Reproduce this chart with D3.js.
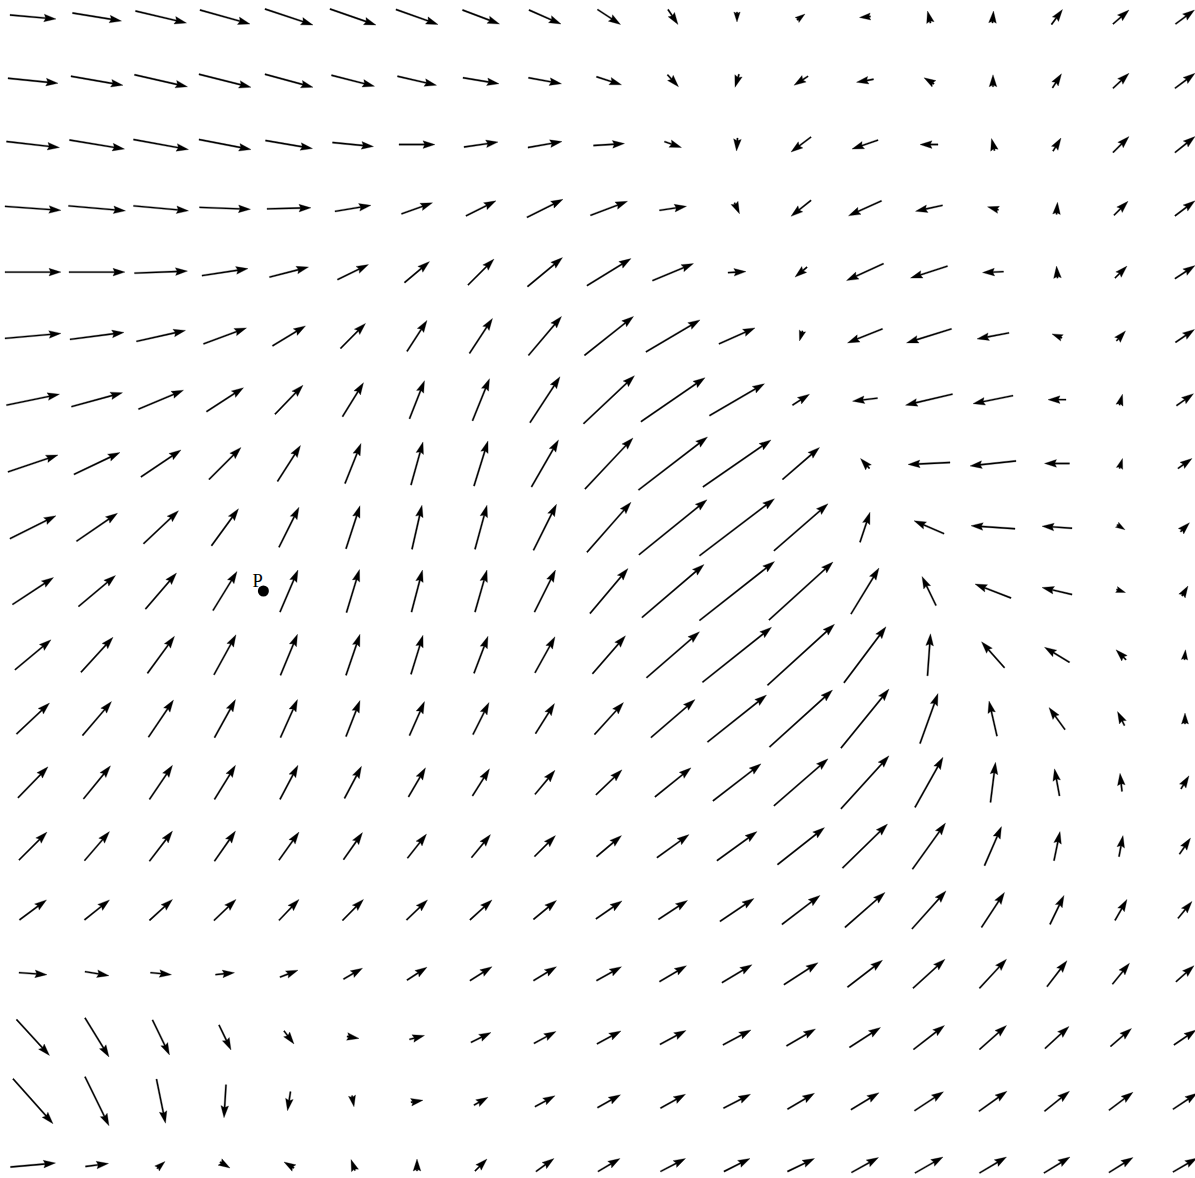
<!DOCTYPE html>
<html>
<head>
<meta charset="utf-8">
<script src="https://cdn.jsdelivr.net/npm/d3@7"></script>
<style>
  html, body { margin: 0; padding: 0; background: #fff; }
  svg { display: block; }
</style>
</head>
<body>
<svg id="chart" width="1195" height="1178"></svg>
<script>
// grid: x values left to right, y values top row first
const gridX = d3.range(0, 19);
const gridY = d3.range(18, -1, -1);

// horizontal component, one row per gridY value
const U = [
  [4.6, 4.9, 5.1, 5.0, 4.8, 4.6, 4.2, 3.7, 3.2, 2.3, 1.0, 0.0, 0.8, -1.1, -0.3, 0.1, 1.1, 1.6, 1.9],
  [5.0, 5.2, 5.3, 5.2, 4.8, 4.3, 3.9, 3.6, 3.3, 2.5, 1.1, -0.4, -1.4, -1.7, -1.0, 0.0, 0.9, 1.6, 2.0],
  [5.3, 5.5, 5.5, 5.2, 4.7, 4.1, 3.6, 3.4, 3.4, 3.1, 1.7, -0.1, -2.0, -2.6, -1.8, -0.3, 0.8, 1.6, 2.0],
  [5.6, 5.7, 5.5, 5.1, 4.4, 3.6, 3.1, 3.0, 3.6, 3.7, 2.7, 0.5, -2.0, -3.3, -2.7, -1.1, 0.1, 1.4, 2.0],
  [5.6, 5.6, 5.3, 4.6, 3.9, 3.1, 2.5, 2.6, 3.5, 4.4, 4.1, 1.8, -1.2, -3.7, -3.7, -2.1, -0.1, 1.2, 2.0],
  [5.6, 5.4, 4.9, 4.3, 3.3, 2.5, 2.0, 2.3, 3.3, 4.9, 5.4, 3.6, -0.3, -3.5, -4.5, -3.2, -1.0, 0.9, 1.9],
  [5.3, 5.1, 4.5, 3.7, 2.8, 2.1, 1.5, 1.7, 3.0, 5.1, 6.4, 5.5, 1.7, -2.5, -4.7, -4.0, -1.8, 0.3, 1.7],
  [5.0, 4.6, 4.0, 3.2, 2.3, 1.6, 1.2, 1.4, 2.7, 4.8, 6.9, 6.8, 3.7, -0.9, -4.2, -4.6, -2.5, 0.3, 1.4],
  [4.6, 4.1, 3.5, 2.7, 2.0, 1.4, 1.0, 1.2, 2.3, 4.4, 6.8, 7.5, 5.4, 1.0, -3.0, -4.4, -3.0, 0.8, 0.9],
  [4.1, 3.7, 3.1, 2.4, 1.8, 1.3, 1.1, 1.2, 2.1, 3.8, 6.2, 7.5, 6.4, 2.8, -1.4, -3.6, -3.0, 0.9, 0.6],
  [3.6, 3.2, 2.7, 2.2, 1.7, 1.4, 1.2, 1.4, 2.0, 3.3, 5.3, 6.9, 6.7, 4.2, 0.3, -2.3, -2.5, -1.0, 0.1],
  [3.3, 2.9, 2.5, 2.1, 1.7, 1.4, 1.5, 1.6, 1.9, 2.9, 4.4, 5.9, 6.3, 4.8, 1.8, -0.8, -1.6, -0.7, 0.0],
  [3.0, 2.7, 2.3, 2.1, 1.8, 1.7, 1.7, 1.7, 2.0, 2.6, 3.6, 4.8, 5.4, 4.8, 2.8, 0.5, -0.5, -0.2, 0.8],
  [2.8, 2.5, 2.3, 2.1, 2.0, 1.9, 1.9, 1.9, 2.1, 2.5, 3.2, 4.0, 4.7, 4.5, 3.3, 1.7, 0.6, 0.4, 1.1],
  [2.7, 2.5, 2.3, 2.2, 2.0, 2.1, 2.1, 2.2, 2.3, 2.6, 2.9, 3.4, 3.8, 4.0, 3.4, 2.3, 1.4, 1.2, 1.4],
  [2.8, 2.4, 2.1, 1.9, 1.8, 1.9, 2.0, 2.2, 2.3, 2.5, 2.7, 3.0, 3.4, 3.5, 3.2, 2.7, 2.0, 1.7, 1.8],
  [3.3, 2.4, 1.7, 1.2, 1.0, 1.2, 1.5, 2.0, 2.2, 2.4, 2.6, 2.8, 2.9, 3.1, 3.1, 2.7, 2.4, 2.1, 2.2],
  [4.0, 2.4, 0.9, -0.2, -0.3, 0.2, 1.2, 1.4, 2.0, 2.3, 2.5, 2.7, 2.7, 2.8, 2.9, 2.8, 2.5, 2.4, 2.4],
  [4.5, 2.3, 0.8, 1.0, -1.0, -0.4, 0.0, 1.2, 1.8, 2.2, 2.5, 2.6, 2.7, 2.7, 2.8, 2.7, 2.6, 2.4, 2.4]
];

// vertical component (positive = up), same layout as U
const V = [
  [-0.4, -0.8, -1.2, -1.4, -1.6, -1.6, -1.5, -1.4, -1.4, -1.5, -1.5, -1.0, 0.6, -0.1, 1.2, 1.2, 1.5, 1.4, 1.4],
  [-0.5, -0.9, -1.2, -1.3, -1.3, -1.1, -0.9, -0.6, -0.6, -0.8, -1.2, -1.3, -0.9, -0.3, 0.6, 1.2, 1.4, 1.5, 1.5],
  [-0.6, -0.9, -1.0, -1.0, -0.8, -0.4, 0.0, 0.5, 0.6, 0.2, -0.6, -1.3, -1.5, -0.9, 0.0, 1.2, 1.3, 1.6, 1.6],
  [-0.4, -0.5, -0.5, -0.2, 0.1, 0.6, 1.1, 1.5, 1.8, 1.4, 0.4, -1.1, -1.6, -1.5, -0.6, 0.3, 1.2, 1.4, 1.5],
  [0.0, 0.0, 0.2, 0.7, 1.0, 1.5, 2.1, 2.6, 2.9, 2.7, 1.7, 0.1, -1.0, -1.7, -1.2, -0.1, 1.2, 1.2, 1.3],
  [0.5, 0.7, 1.1, 1.6, 2.0, 2.5, 3.1, 3.5, 3.9, 3.9, 3.2, 1.6, -1.0, -1.4, -1.4, -0.6, 0.4, 1.0, 1.3],
  [1.1, 1.4, 1.9, 2.4, 2.9, 3.4, 3.8, 4.2, 4.6, 4.8, 4.4, 3.2, 1.1, -0.3, -1.1, -0.8, 0.0, 1.1, 1.2],
  [1.7, 2.2, 2.7, 3.2, 3.6, 4.0, 4.3, 4.5, 4.7, 5.1, 5.3, 4.7, 3.2, 1.0, -0.2, -0.5, 0.0, 1.0, 1.0],
  [2.3, 2.8, 3.3, 3.7, 4.0, 4.3, 4.4, 4.4, 4.6, 5.0, 5.5, 5.7, 4.7, 3.0, 1.3, 0.3, 0.2, -0.5, 0.9],
  [2.7, 3.1, 3.6, 3.9, 4.2, 4.3, 4.2, 4.2, 4.2, 4.5, 5.3, 5.9, 5.8, 4.6, 2.9, 1.4, 0.7, -0.3, 1.0],
  [3.0, 3.5, 3.7, 4.0, 4.1, 4.1, 3.9, 3.7, 3.6, 3.8, 4.6, 5.5, 6.1, 5.6, 4.2, 2.6, 1.5, 1.0, 1.0],
  [3.1, 3.4, 3.7, 3.8, 3.8, 3.6, 3.4, 3.2, 3.0, 3.2, 3.8, 4.7, 5.7, 5.9, 5.0, 3.5, 2.2, 1.4, 1.1],
  [3.1, 3.3, 3.4, 3.4, 3.4, 3.2, 2.9, 2.7, 2.4, 2.5, 2.9, 3.7, 4.7, 5.3, 5.0, 4.0, 2.7, 1.8, 1.3],
  [2.8, 2.9, 3.0, 3.0, 2.8, 2.7, 2.4, 2.3, 2.1, 2.1, 2.3, 2.9, 3.7, 4.4, 4.6, 3.9, 2.9, 2.1, 1.6],
  [2.0, 2.0, 2.1, 2.1, 2.1, 2.1, 2.0, 2.0, 1.9, 1.8, 1.9, 2.3, 2.9, 3.5, 3.8, 3.5, 2.9, 2.1, 1.7],
  [-0.2, -0.4, -0.2, 0.2, 0.7, 1.1, 1.3, 1.4, 1.4, 1.4, 1.6, 1.8, 2.2, 2.7, 2.9, 2.9, 2.6, 2.1, 1.6],
  [-3.6, -3.9, -3.5, -2.5, -1.3, -0.2, 0.4, 1.0, 1.2, 1.3, 1.4, 1.5, 1.7, 2.0, 2.4, 2.4, 2.2, 1.8, 1.5],
  [-4.5, -4.9, -4.4, -3.3, -1.9, -1.1, 0.2, 0.8, 1.1, 1.3, 1.4, 1.4, 1.6, 1.7, 1.9, 2.0, 2.0, 1.8, 1.6],
  [0.4, 0.3, 0.7, -0.6, 0.6, 1.1, 1.2, 1.2, 1.3, 1.3, 1.3, 1.3, 1.3, 1.5, 1.6, 1.6, 1.6, 1.5, 1.4]
];

// marked point
const pointLabels = ['P'];
const pointX = [3.6];
const pointY = [9];

const x = d3.scaleLinear().domain([0, 18]).range([33, 1185]);
const y = d3.scaleLinear().domain([0, 18]).range([1165, 17]);
const len = d3.scaleLinear().domain([0, 1]).range([0, 10]);

const svg = d3.select('#chart');

const vectors = [];
gridY.forEach((gy, i) => {
  gridX.forEach((gx, j) => {
    vectors.push({ gx, gy, u: U[i][j], v: V[i][j] });
  });
});

const outline = d3.line().curve(d3.curveLinearClosed);

// arrow as one polygon, centred on its grid point
function arrowPath(d) {
  const dx = len(d.u);
  const dy = -len(d.v);
  const L = Math.hypot(dx, dy);
  if (L === 0) return null;
  const ux = dx / L, uy = dy / L;
  const nx = -uy, ny = ux;
  const x0 = x(d.gx) - dx / 2;
  const y0 = y(d.gy) - dy / 2;
  const hl = Math.min(12, L);
  const hw = hl * 0.32;
  const sw = 0.7;
  const at = (s, t) => [x0 + ux * s + nx * t, y0 + uy * s + ny * t];
  return outline([
    at(0, -sw),
    at(L - hl * 0.88, -sw),
    at(L - hl, -hw),
    at(L, 0),
    at(L - hl, hw),
    at(L - hl * 0.88, sw),
    at(0, sw)
  ]);
}

svg.append('g')
  .attr('class', 'vectors')
  .selectAll('path')
  .data(vectors)
  .join('path')
  .attr('d', arrowPath)
  .attr('fill', '#000')
  .attr('stroke', '#000')
  .attr('stroke-width', 0.3)
  .attr('stroke-linejoin', 'miter');

const pts = svg.append('g')
  .attr('class', 'points')
  .selectAll('g')
  .data(pointLabels.map((label, i) => ({ label, px: pointX[i], py: pointY[i] })))
  .join('g');

pts.append('circle')
  .attr('cx', (d) => x(d.px))
  .attr('cy', (d) => y(d.py))
  .attr('r', 5.5)
  .attr('fill', '#000');

pts.append('text')
  .attr('x', (d) => x(d.px) - 11)
  .attr('y', (d) => y(d.py) - 4)
  .attr('font-family', '"Liberation Serif", "DejaVu Serif", serif')
  .attr('font-size', 18.5)
  .attr('fill', '#000')
  .text((d) => d.label);
</script>
</body>
</html>
